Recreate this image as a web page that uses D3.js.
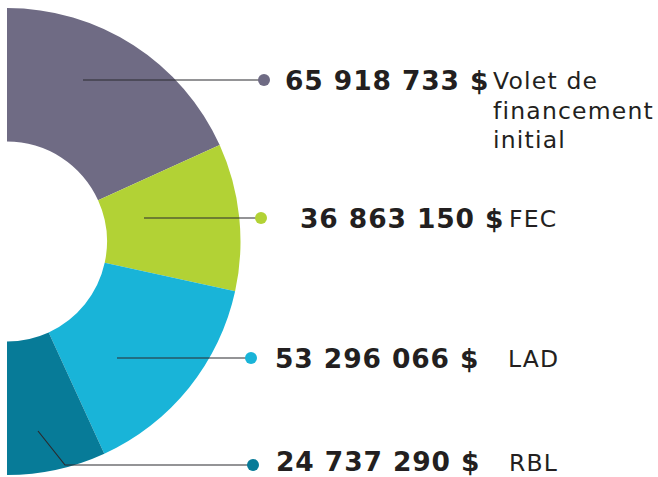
<!DOCTYPE html>
<html>
<head>
<meta charset="utf-8">
<script src="https://cdn.jsdelivr.net/npm/d3@7/dist/d3.min.js"></script>
<style>
  html, body { margin: 0; padding: 0; background: #ffffff; }
  svg { display: block; }
</style>
</head>
<body>
<script>
// ---- data ----
const categories = ["Volet de financement initial", "FEC", "LAD", "RBL"];
const labelLines = [["Volet de", "financement", "initial"], ["FEC"], ["LAD"], ["RBL"]];
const values = [65918733, 36863150, 53296066, 24737290];
const colors = ["#6f6b84", "#b2d235", "#19b4d8", "#077b98"];

// ---- layout (annotation placement) ----
const labelY = [80, 218, 358, 465];        // leader / dot y
const anchorX = [83, 144, 117, 65];        // leader start x (horizontal segment)
const dotX = [264, 261, 251, 253];
const numX = [285, 300, 275, 276];
const nameX = [493, 509, 508, 509];
const elbow = [null, null, null, [38, 431]];

const W = 658, H = 477;
const cx = 7, cy = 241.5, rOuter = 233.5, rInner = 100;

const svg = d3.select("body").append("svg")
  .attr("width", W).attr("height", H);

const pie = d3.pie().sort(null).value(d => d).startAngle(0).endAngle(Math.PI);
const arc = d3.arc().innerRadius(rInner).outerRadius(rOuter);

const g = svg.append("g").attr("transform", `translate(${cx},${cy})`);
g.selectAll("path").data(pie(values)).join("path")
  .attr("d", arc)
  .attr("fill", (d, i) => colors[i]);

const fmt = v => d3.format(",")(v).replace(/,/g, " ") + " $";

// leader lines
const lines = svg.append("g");
values.forEach((v, i) => {
  const pts = [];
  if (elbow[i]) pts.push(elbow[i]);
  pts.push([anchorX[i], labelY[i]]);
  pts.push([dotX[i], labelY[i]]);
  lines.append("path")
    .attr("d", d3.line()(pts))
    .attr("fill", "none")
    .attr("stroke", "#2b2a2e")
    .attr("stroke-width", 1.2);
  lines.append("circle")
    .attr("cx", dotX[i]).attr("cy", labelY[i]).attr("r", 6)
    .attr("fill", colors[i]);
});

// text
const txt = svg.append("g");
values.forEach((v, i) => {
  txt.append("text")
    .attr("x", numX[i]).attr("y", Math.min(labelY[i] + 9.5, 470.5))
    .attr("font-family", "DejaVu Sans")
    .attr("font-weight", "bold")
    .attr("font-size", 26.5)
    .attr("letter-spacing", 0.9)
    .attr("fill", "#231f20")
    .text(fmt(v));
  const t = txt.append("text")
    .attr("x", nameX[i]).attr("y", Math.min(labelY[i] + 9, 470.5))
    .attr("font-family", "DejaVu Sans")
    .attr("font-size", 23.5)
    .attr("letter-spacing", 1.2)
    .attr("fill", "#231f20");
  labelLines[i].forEach((s, k) => {
    t.append("tspan").attr("x", nameX[i]).attr("dy", k === 0 ? 0 : 29.5).text(s);
  });
});
</script>
</body>
</html>
